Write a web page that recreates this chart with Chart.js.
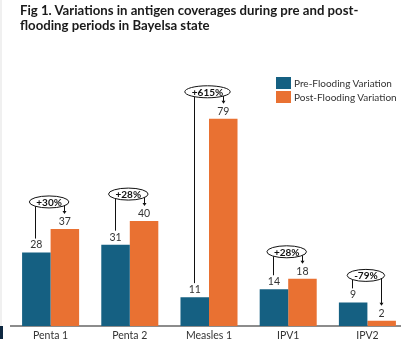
<!DOCTYPE html>
<html><head><meta charset="utf-8">
<script src="https://cdn.jsdelivr.net/npm/chart.js@4"></script>
<style>
html,body{margin:0;padding:0;background:#fff;width:401px;height:339px;overflow:hidden;position:relative;font-family:Lato,sans-serif;}
#edge{position:absolute;left:0;top:0;width:2px;height:339px;background:#f0f0f0;}
#navy{position:absolute;left:0;top:326px;width:3px;height:13px;background:#0e2841;}
#title{position:absolute;left:20px;top:3px;font-weight:bold;font-size:13.2px;line-height:15px;color:#1a1a1a;white-space:nowrap;}
#legend{position:absolute;left:276px;top:76px;font-size:10px;color:#333;}
.li{display:flex;align-items:center;height:14px;white-space:nowrap;}
.sw{width:15px;height:12px;margin-right:3px;}
#wrap{position:absolute;left:0;top:0;width:420px;height:339px;}
</style></head>
<body>
<div id="edge"></div>
<div id="wrap"><canvas id="c" width="420" height="339"></canvas></div>
<div id="title">Fig 1. Variations in antigen coverages during pre and post-<br>flooding periods in Bayelsa state</div>
<div id="legend"></div>
<div id="navy"></div>
<script>
const categories = ["Penta 1","Penta 2","Measles 1","IPV1","IPV2"];
const preFlooding = [28,31,11,14,9];
const postFlooding = [37,40,79,18,2];
const changeLabels = ["+30%","+28%","+615%","+28%","-79%"];
const seriesNames = ["Pre-Flooding Variation","Post-Flooding Variation"];
const seriesColors = ["#156082","#E97132"];

const leg = document.getElementById('legend');
seriesNames.forEach((n,i)=>{
  const d=document.createElement('div'); d.className='li';
  const s=document.createElement('div'); s.className='sw'; s.style.background=seriesColors[i];
  const t=document.createElement('span'); t.textContent=n;
  d.appendChild(s); d.appendChild(t); leg.appendChild(d);
});

const annot = {
  id:'annot',
  afterDatasetsDraw(chart){
    const ctx=chart.ctx;
    const m0=chart.getDatasetMeta(0), m1=chart.getDatasetMeta(1);
    ctx.save();
    ctx.font='10.5px Lato'; ctx.fillStyle='#333'; ctx.textAlign='center'; ctx.textBaseline='middle';
    [m0,m1].forEach((m,di)=>m.data.forEach((b,i)=>{
      ctx.fillText(String(chart.data.datasets[di].data[i]), b.x, b.y-7.5);
    }));
    m0.data.forEach((b0,i)=>{
      const b1=m1.data[i];
      const cx=chart.scales.x.getPixelForValue(i)-1.5;
      const top=Math.min(b0.y,b1.y);
      const cy=top-27;
      ctx.font='bold 10px Lato';
      const tw=ctx.measureText(changeLabels[i]).width;
      const rx=tw/2+7, ry=6;
      ctx.strokeStyle='#111'; ctx.lineWidth=1; ctx.fillStyle='#111';
      ctx.beginPath(); ctx.ellipse(cx,cy,rx,ry,0,0,Math.PI*2); ctx.stroke();
      ctx.fillText(changeLabels[i],cx,cy+0.5);
      const edgeY = x => { const d=(x-cx)/rx; return Math.abs(d)<1 ? cy+ry*Math.sqrt(1-d*d) : cy; };
      const lx=Math.round(b0.x-1)+0.5;
      ctx.beginPath(); ctx.moveTo(lx, edgeY(lx)); ctx.lineTo(lx, b0.y-14); ctx.stroke();
      const ax=Math.round(b1.x-0.5)+0.5, ay0=edgeY(ax), ay1=b1.y-15;
      ctx.beginPath(); ctx.moveTo(ax, ay0); ctx.lineTo(ax, ay1-2); ctx.stroke();
      ctx.beginPath(); ctx.moveTo(ax-2, ay1-3); ctx.lineTo(ax+2, ay1-3); ctx.lineTo(ax, ay1); ctx.closePath(); ctx.fill();
    });
    ctx.restore();
  }
};

new Chart(document.getElementById('c'), {
  type:'bar',
  data:{
    labels:categories,
    datasets:[
      {label:seriesNames[0], data:preFlooding, backgroundColor:seriesColors[0], barPercentage:1, categoryPercentage:0.72},
      {label:seriesNames[1], data:postFlooding, backgroundColor:seriesColors[1], barPercentage:1, categoryPercentage:0.72}
    ]
  },
  options:{
    responsive:false, animation:false, devicePixelRatio:1,
    layout:{padding:{left:11,right:13,top:63.7,bottom:0}},
    plugins:{legend:{display:false}, tooltip:{enabled:false}},
    scales:{
      y:{display:false, min:0, max:100},
      x:{
        grid:{display:false, drawTicks:false},
        border:{display:true,color:'#8c8c8c',width:2},
        ticks:{color:'#333',font:{family:'Lato',size:10.5},padding:3},
        afterFit(s){ s.height=13; }
      }
    }
  },
  plugins:[annot]
});
</script>
</body></html>
